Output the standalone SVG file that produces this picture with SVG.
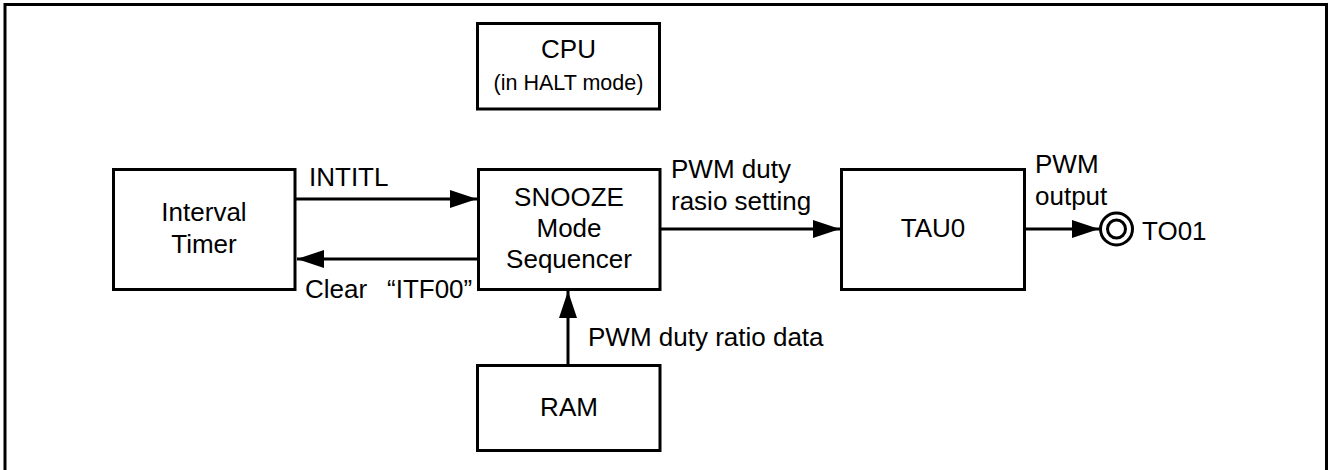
<svg xmlns="http://www.w3.org/2000/svg" width="1328" height="470" viewBox="0 0 1328 470">
<style>
.box{fill:#fff;stroke:#000;stroke-width:3}
.t{font-family:"Liberation Sans",Arial,sans-serif;font-size:26px;fill:#000}
.c{text-anchor:middle}
.s{font-size:21.5px}
.ln{stroke:#000;stroke-width:3;fill:none;marker-end:url(#arr)}
</style>
<defs>
<marker id="arr" markerUnits="userSpaceOnUse" markerWidth="28" markerHeight="18" refX="27" refY="9" orient="auto" overflow="visible">
<path d="M0,0 L27,9 L0,18 z" fill="#000"/>
</marker>
</defs>
<rect x="5" y="4.5" width="1321.5" height="470" fill="#fff" stroke="#000" stroke-width="3"/>
<g id="cpu">
<rect class="box" x="477.5" y="23.5" width="182" height="85.5"/>
<text class="t c" x="568.5" y="58">CPU</text>
<text class="t c s" x="568.5" y="90">(in HALT mode)</text>
</g>
<g id="interval-timer">
<rect class="box" x="113.5" y="169.5" width="181.5" height="120"/>
<text class="t c" x="204" y="221">Interval</text>
<text class="t c" x="204" y="253">Timer</text>
</g>
<g id="snooze">
<rect class="box" x="478.5" y="169.5" width="181.5" height="120"/>
<text class="t c" x="569" y="206">SNOOZE</text>
<text class="t c" x="569" y="237">Mode</text>
<text class="t c" x="569" y="268">Sequencer</text>
</g>
<g id="ram">
<rect class="box" x="477.5" y="365.5" width="182.5" height="85"/>
<text class="t c" x="569" y="416">RAM</text>
</g>
<g id="tau0">
<rect class="box" x="841.5" y="169.5" width="183" height="120"/>
<text class="t c" x="933" y="237">TAU0</text>
</g>
<g id="to01">
<circle cx="1116.5" cy="229" r="16" fill="#fff" stroke="#000" stroke-width="3"/>
<circle cx="1116.5" cy="229" r="9" fill="#fff" stroke="#000" stroke-width="3"/>
<text class="t" x="1142" y="240">TO01</text>
</g>
<g id="connectors">
<line class="ln" x1="295" y1="199" x2="477" y2="199"/>
<line class="ln" x1="478" y1="259" x2="297" y2="259"/>
<line class="ln" x1="568" y1="365" x2="568" y2="291"/>
<line class="ln" x1="660" y1="229" x2="840" y2="229"/>
<line class="ln" x1="1024" y1="229" x2="1099" y2="229"/>
<text class="t" x="309" y="186">INTITL</text>
<text class="t" y="298"><tspan x="305">Clear</tspan><tspan x="387">“ITF00”</tspan></text>
<text class="t" x="588" y="346">PWM duty ratio data</text>
<text class="t" x="671" y="178">PWM duty</text>
<text class="t" x="671" y="210">rasio setting</text>
<text class="t" x="1035" y="173">PWM</text>
<text class="t" x="1035" y="205">output</text>
</g>
</svg>
